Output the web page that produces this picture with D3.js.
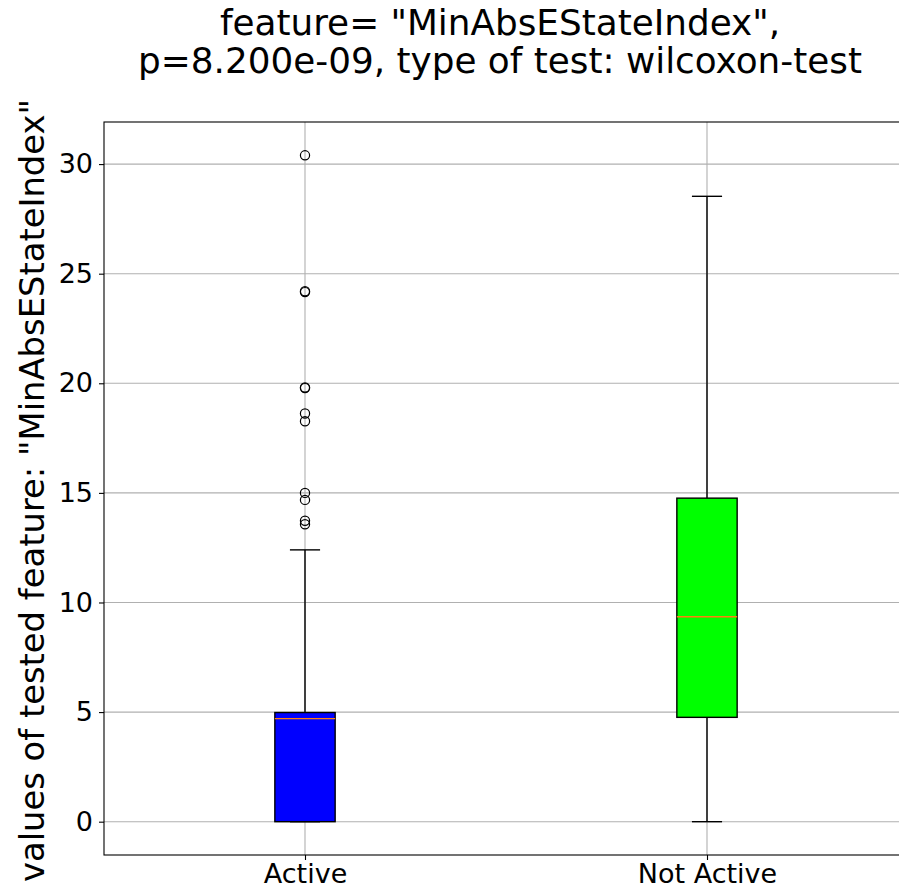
<!DOCTYPE html>
<html lang="en">
<head>
    <meta charset="UTF-8">
    <title>Box plot MinAbsEStateIndex</title>
    <script src="https://d3js.org/d3.v7.min.js"></script>
    <style>
        body { margin: 0; background: #fff; }
        text { font-family: "DejaVu Sans", sans-serif; fill: #000; }
    </style>
</head>
<body>
<svg id="main" width="899" height="890"></svg>
<script>
    // data
    const groups = ['Active', 'Not Active'];
    const boxColors = ['#0000ff', '#00ff00'];
    const whiskerLow = [0, 0];
    const q1 = [0, 4.76];
    const median = [4.70, 9.35];
    const q3 = [4.98, 14.76];
    const whiskerHigh = [12.4, 28.53];
    const outliersActive = [30.4, 24.16, 24.2, 19.78, 19.81, 18.62, 18.27, 15.0, 14.68, 13.73, 13.57];
    const outliersNotActive = [];
    const yTicks = [0, 5, 10, 15, 20, 25, 30];

    const svg = d3.select('svg#main');
    const plot = {left: 104, right: 908, top: 122, bottom: 855};

    let x = d3.scalePoint()
        .domain(groups)
        .range([plot.left, plot.right])
        .padding(0.5);
    let y = d3.scaleLinear()
        .domain([-1.52, 31.92])
        .range([plot.bottom, plot.top]);

    // grid
    svg.append('g').selectAll('line')
        .data(yTicks).join('line')
        .attr('x1', plot.left).attr('x2', plot.right)
        .attr('y1', d => y(d)).attr('y2', d => y(d))
        .attr('stroke', '#b0b0b0').attr('stroke-width', 1.1);
    svg.append('g').selectAll('line')
        .data(groups).join('line')
        .attr('x1', d => x(d)).attr('x2', d => x(d))
        .attr('y1', plot.top).attr('y2', plot.bottom)
        .attr('stroke', '#b0b0b0').attr('stroke-width', 1.1);

    // boxes
    const boxW = x.step() * 0.15;
    const capW = boxW / 2;
    const data = groups.map((g, i) => ({
        name: g, color: boxColors[i],
        lo: whiskerLow[i], q1: q1[i], med: median[i], q3: q3[i], hi: whiskerHigh[i],
        out: i === 0 ? outliersActive : outliersNotActive
    }));

    const bx = svg.append('g').selectAll('g')
        .data(data).join('g');

    // whiskers
    bx.append('line')
        .attr('x1', d => x(d.name)).attr('x2', d => x(d.name))
        .attr('y1', d => y(d.q3)).attr('y2', d => y(d.hi))
        .attr('stroke', '#000').attr('stroke-width', 1.4);
    bx.append('line')
        .attr('x1', d => x(d.name)).attr('x2', d => x(d.name))
        .attr('y1', d => y(d.q1)).attr('y2', d => y(d.lo))
        .attr('stroke', '#000').attr('stroke-width', 1.4);
    // caps
    bx.append('line')
        .attr('x1', d => x(d.name) - capW / 2).attr('x2', d => x(d.name) + capW / 2)
        .attr('y1', d => y(d.hi)).attr('y2', d => y(d.hi))
        .attr('stroke', '#000').attr('stroke-width', 1.4);
    bx.append('line')
        .attr('x1', d => x(d.name) - capW / 2).attr('x2', d => x(d.name) + capW / 2)
        .attr('y1', d => y(d.lo)).attr('y2', d => y(d.lo))
        .attr('stroke', '#000').attr('stroke-width', 1.4);
    // box
    bx.append('rect')
        .attr('x', d => x(d.name) - boxW / 2)
        .attr('width', boxW)
        .attr('y', d => y(d.q3))
        .attr('height', d => y(d.q1) - y(d.q3))
        .attr('fill', d => d.color)
        .attr('stroke', '#000').attr('stroke-width', 1.4);
    // median
    bx.append('line')
        .attr('x1', d => x(d.name) - boxW / 2).attr('x2', d => x(d.name) + boxW / 2)
        .attr('y1', d => y(d.med)).attr('y2', d => y(d.med))
        .attr('stroke', '#ff7f0e').attr('stroke-width', 1.4);
    // fliers
    bx.selectAll('circle')
        .data(d => d.out.map(v => ({name: d.name, v: v})))
        .join('circle')
        .attr('cx', d => x(d.name)).attr('cy', d => y(d.v))
        .attr('r', 4.6)
        .attr('fill', 'none')
        .attr('stroke', '#000').attr('stroke-width', 1.2);

    // axes
    let xAxis = svg.append('g')
        .attr('transform', 'translate(0,' + plot.bottom + ')')
        .call(d3.axisBottom(x).tickSize(5).tickPadding(4));
    let yAxis = svg.append('g')
        .attr('transform', 'translate(' + plot.left + ',0)')
        .call(d3.axisLeft(y).tickValues(yTicks).tickSize(5).tickPadding(6));
    [xAxis, yAxis].forEach(a => {
        a.select('.domain').remove();
        a.selectAll('.tick line').attr('stroke', '#000').attr('stroke-width', 1.1);
        a.selectAll('text').style('font-size', '27px').attr('fill', '#000')
            .style('font-family', '"DejaVu Sans", sans-serif');
    });

    // spines
    svg.append('rect')
        .attr('x', plot.left).attr('y', plot.top)
        .attr('width', plot.right - plot.left).attr('height', plot.bottom - plot.top)
        .attr('fill', 'none').attr('stroke', '#000').attr('stroke-width', 1.1);

    // title, two separate lines
    const titleLines = ['feature= "MinAbsEStateIndex",', 'p=8.200e-09, type of test: wilcoxon-test'];
    svg.append('g').selectAll('text')
        .data(titleLines).join('text')
        .attr('x', 500)
        .attr('y', (d, i) => 35 + i * 38)
        .attr('text-anchor', 'middle')
        .style('font-size', '35.8px')
        .text(d => d);

    // y label
    svg.append('text')
        .attr('transform', 'translate(44,' + ((plot.top + plot.bottom) / 2 + 2) + ') rotate(-90)')
        .attr('text-anchor', 'middle')
        .style('font-size', '33.8px')
        .text('values of tested feature: "MinAbsEStateIndex"');
</script>
</body>
</html>
